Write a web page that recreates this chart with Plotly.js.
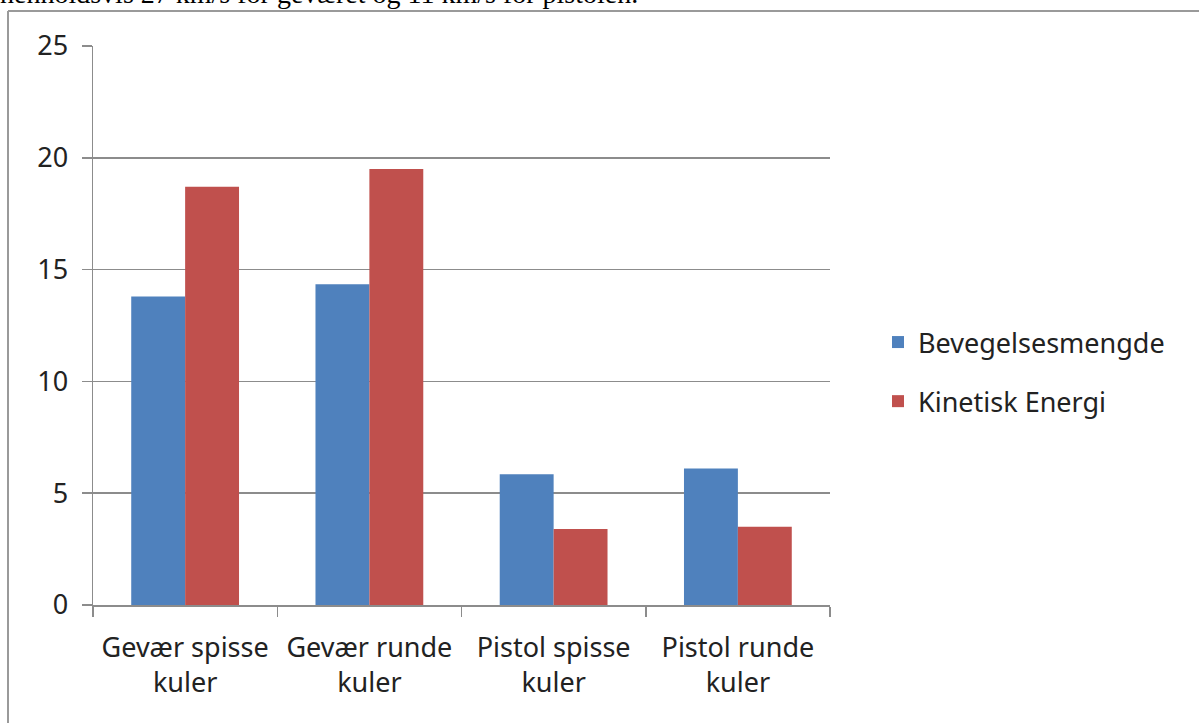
<!DOCTYPE html>
<html>
<head>
<meta charset="utf-8">
<script src="https://cdn.plot.ly/plotly-3.0.1.min.js"></script>
<style>
  html, body { margin: 0; padding: 0; background: #fff; }
  #chart { width: 1199px; height: 723px; }
</style>
</head>
<body>
<div id="chart"></div>
<script>
const categories = ["Gevær spisse<br>kuler", "Gevær runde<br>kuler", "Pistol spisse<br>kuler", "Pistol runde<br>kuler"];
const bevegelsesmengde = [13.8, 14.35, 5.85, 6.1];
const kinetiskEnergi = [18.7, 19.5, 3.4, 3.5];
const yTicks = [0, 5, 10, 15, 20, 25];
const seriesNames = ["Bevegelsesmengde", "Kinetisk Energi"];
const caption = "henholdsvis 27 km/s for geværet og 11 km/s for pistolen.";

const FONT = "Noto Sans, Liberation Sans, sans-serif";
const GRID = "#8c8c8c";
const FS = 27;

// pixel -> paper helpers (plot area 93..830 x 46..605)
const L = 93, R = 830, T = 46, B = 605;
const px = v => (v - L) / (R - L);
const py = v => (B - v) / (B - T);

const traces = [
  { type: "bar", name: seriesNames[0], x: categories, y: bevegelsesmengde,
    marker: { color: "#4F81BD" }, legendgroup: "a" },
  { type: "bar", name: seriesNames[1], x: categories, y: kinetiskEnergi,
    marker: { color: "#C0504D" }, legendgroup: "b" }
];

const layout = {
  width: 1199, height: 723,
  margin: { l: L, r: 1199 - R, t: T, b: 723 - B, pad: 0 },
  paper_bgcolor: "#fff", plot_bgcolor: "#fff",
  font: { family: FONT, size: FS, color: "#222" },
  barmode: "group",
  bargap: 0.415, bargroupgap: 0,
  showlegend: true,
  legend: {
    x: px(878), y: py(372), xanchor: "left", yanchor: "middle",
    font: { family: FONT, size: FS, color: "#222" },
    tracegroupgap: 21, itemwidth: 30, bgcolor: "rgba(0,0,0,0)"
  },
  xaxis: {
    type: "category",
    showgrid: false, showline: true, linecolor: GRID, linewidth: 1.5,
    ticks: "outside", tickson: "boundaries", ticklen: 10, tickcolor: GRID, tickwidth: 1.5,
    tickfont: { family: FONT, size: FS, color: "#222" },
    ticklabelstandoff: 18,
    fixedrange: true
  },
  yaxis: {
    range: [0, 25], tickvals: yTicks, ticktext: yTicks.map(String),
    showgrid: true, gridcolor: GRID, gridwidth: 1.5,
    showline: true, linecolor: GRID, linewidth: 1.5,
    ticks: "outside", ticklen: 10, tickcolor: GRID, tickwidth: 1.5,
    zeroline: false,
    tickfont: { family: FONT, size: FS, color: "#222" },
    ticklabelstandoff: 8,
    fixedrange: true
  },
  shapes: [
    { type: "line", xref: "paper", yref: "paper", x0: px(8), x1: px(8), y0: py(11), y1: py(730),
      line: { color: "#9a9a9a", width: 2 } },
    { type: "line", xref: "paper", yref: "paper", x0: px(8), x1: px(1210), y0: py(11), y1: py(11),
      line: { color: "#9a9a9a", width: 2 } }
  ],
  annotations: [
    { xref: "paper", yref: "paper", x: px(-2), y: py(11), xanchor: "left", yanchor: "bottom",
      text: caption, showarrow: false,
      font: { family: "Liberation Serif, Times New Roman, serif", size: 28, color: "#000" } }
  ]
};

Plotly.newPlot("chart", traces, layout, { displayModeBar: false, staticPlot: true });
</script>
</body>
</html>
